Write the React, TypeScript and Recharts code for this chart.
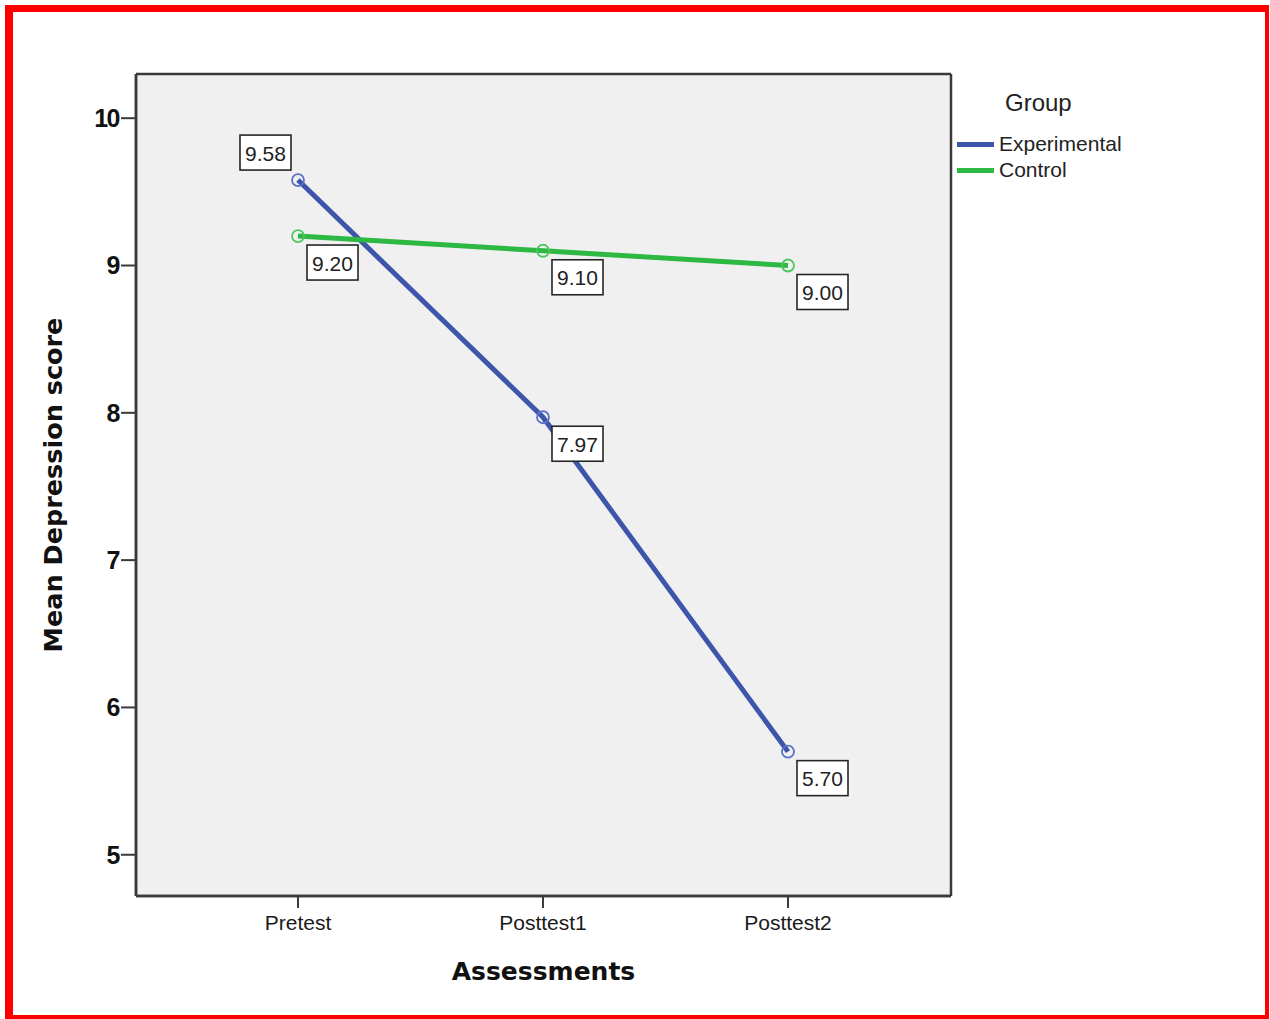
import React from 'react';
import { LineChart, Line, XAxis, YAxis, CartesianGrid, LabelList, Legend } from 'recharts';

const categories = ['Pretest', 'Posttest1', 'Posttest2'];
const experimental = [9.58, 7.97, 5.7];
const control = [9.2, 9.1, 9.0];
const yTicks = [5, 6, 7, 8, 9, 10];
const yDomain = [4.72, 10.3];
const seriesNames = ['Experimental', 'Control'];

const data = categories.map((name, i) => ({ name, Experimental: experimental[i], Control: control[i] }));

const EXP_COLOR = '#3d56ab';
const EXP_DOT = '#5a72c8';
const CTRL_COLOR = '#2db743';
const CTRL_DOT = '#4cc85e';
const FRAME = '#3a3a3a';
const seriesColors: Record<string, string> = { Experimental: EXP_COLOR, Control: CTRL_COLOR };

const makeLabel = (series: string) => (props: any) => {
  const { x, y, value, index } = props;
  const w = 51;
  const h = 35;
  const aboveLeft = series === 'Experimental' && index === 0;
  const bx = aboveLeft ? x - 58 : x + 9;
  const by = aboveLeft ? y - 45 : y + 9;
  return (
    <g>
      <rect x={bx} y={by} width={w} height={h} fill="#ffffff" stroke="#262626" strokeWidth={1.6} />
      <text
        x={bx + w / 2}
        y={by + h / 2 + 8}
        textAnchor="middle"
        fontFamily="'Liberation Sans', Arial, sans-serif"
        fontSize={21}
        fill="#222"
      >
        {Number(value).toFixed(2)}
      </text>
    </g>
  );
};

const LegendContent = () => {
  return (
    <div style={{ position: 'relative', width: 200, height: 100, fontFamily: "'Liberation Sans', Arial, sans-serif" }}>
      <div style={{ position: 'absolute', left: 50, top: 5, fontSize: 24, color: '#222', lineHeight: '24px' }}>Group</div>
      {seriesNames.map((name, i) => (
        <div key={name} style={{ position: 'absolute', left: 2, top: 47 + i * 26, height: 22, display: 'flex', alignItems: 'center' }}>
          <div style={{ width: 37, height: 5, background: seriesColors[name] }} />
          <span style={{ marginLeft: 5, fontSize: 21, color: '#222', lineHeight: '22px' }}>{name}</span>
        </div>
      ))}
    </div>
  );
};

const YTitle = (props: any) => {
  const vb = props.viewBox || {};
  const cx = 62;
  const cy = vb.y + vb.height / 2;
  return (
    <text
      x={cx}
      y={cy}
      transform={`rotate(-90, ${cx}, ${cy})`}
      textAnchor="middle"
      fontFamily="'DejaVu Sans', Verdana, sans-serif"
      fontWeight="bold"
      fontSize={25.5}
      fill="#111"
    >
      Mean Depression score
    </text>
  );
};

const XTitle = (props: any) => {
  const vb = props.viewBox || {};
  const cx = vb.x + vb.width / 2;
  return (
    <text
      x={cx}
      y={vb.y + 84}
      textAnchor="middle"
      fontFamily="'DejaVu Sans', Verdana, sans-serif"
      fontWeight="bold"
      fontSize={25}
      fill="#111"
    >
      Assessments
    </text>
  );
};

const frameH = (props: any) => {
  const o = props.offset;
  return [o.top, o.top + o.height];
};
const frameV = (props: any) => {
  const o = props.offset;
  return [o.left, o.left + o.width];
};

export default function App() {
  return (
    <div style={{ position: 'absolute', left: 0, top: 0, width: 1270, height: 1019, background: '#fff' }}>
      <div
        style={{
          position: 'absolute',
          left: 5,
          top: 5,
          width: 1264,
          height: 1014,
          boxSizing: 'border-box',
          borderLeft: '8px solid #ff0000',
          borderTop: '7px solid #ff0000',
          borderRight: '4px solid #ff0000',
          borderBottom: '4px solid #ff0000',
        }}
      />
      <div style={{ position: 'absolute', left: 0, top: 0 }}>
        <LineChart width={1270} height={1019} data={data} margin={{ top: 74, right: 319, bottom: 0, left: 0 }}>
          <CartesianGrid
            fill="#f0f0f0"
            stroke={FRAME}
            strokeWidth={2.5}
            horizontalCoordinatesGenerator={frameH}
            verticalCoordinatesGenerator={frameV}
          />
          <XAxis
            dataKey="name"
            height={123}
            padding={{ left: 162, right: 163 }}
            tickSize={12}
            tickMargin={7}
            axisLine={{ stroke: FRAME, strokeWidth: 2.5 }}
            tickLine={{ stroke: FRAME, strokeWidth: 2 }}
            tick={{ fill: '#1a1a1a', fontSize: 21, fontFamily: "'Liberation Sans', Arial, sans-serif" }}
            label={<XTitle />}
          />
          <YAxis
            width={136}
            domain={yDomain}
            ticks={yTicks}
            allowDataOverflow
            tickSize={15}
            tickMargin={2}
            axisLine={{ stroke: FRAME, strokeWidth: 2.5 }}
            tickLine={{ stroke: FRAME, strokeWidth: 2 }}
            tick={{
              fill: '#111',
              fontSize: 25,
              fontWeight: 'bold',
              letterSpacing: -1.5,
              fontFamily: "'Liberation Sans Narrow', 'Arial Narrow', 'Liberation Sans', Arial, sans-serif",
            }}
            label={<YTitle />}
          />
          <Legend
            layout="vertical"
            align="center"
            verticalAlign="middle"
            content={<LegendContent />}
            wrapperStyle={{ left: 955, top: 86, width: 200, height: 100 }}
          />
          <Line
            type="linear"
            dataKey="Experimental"
            stroke={EXP_COLOR}
            strokeWidth={5}
            dot={{ r: 6, fill: 'none', stroke: EXP_DOT, strokeWidth: 1.8 }}
            activeDot={false}
            isAnimationActive={false}
          >
            <LabelList dataKey="Experimental" content={makeLabel('Experimental')} />
          </Line>
          <Line
            type="linear"
            dataKey="Control"
            stroke={CTRL_COLOR}
            strokeWidth={5}
            dot={{ r: 6, fill: 'none', stroke: CTRL_DOT, strokeWidth: 1.8 }}
            activeDot={false}
            isAnimationActive={false}
          >
            <LabelList dataKey="Control" content={makeLabel('Control')} />
          </Line>
        </LineChart>
      </div>
    </div>
  );
}
